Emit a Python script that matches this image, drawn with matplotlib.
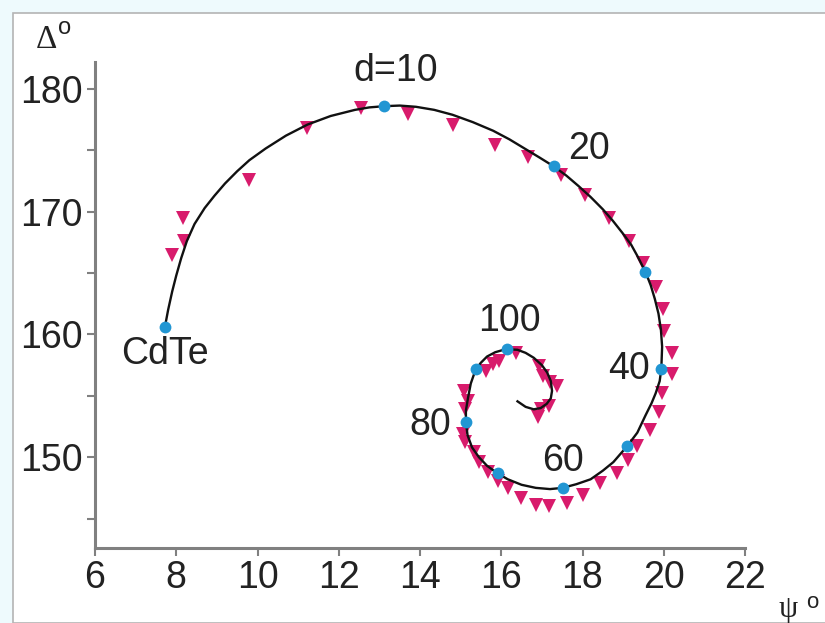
import matplotlib
matplotlib.use("Agg")
import matplotlib.pyplot as plt
from matplotlib.patches import Rectangle

# model curve (psi, delta)
curve_psi = [7.72, 7.8, 7.9, 8.0, 8.12, 8.26, 8.45, 8.7, 8.94, 9.2, 9.5, 9.8, 10.2,
             10.7, 11.23, 11.8, 12.4, 12.75, 13.12, 13.5, 13.9, 14.35, 14.8,
             15.3, 15.8, 16.2, 16.6, 16.95, 17.29, 17.6, 17.9, 18.2, 18.5, 18.75, 19.0,
             19.2, 19.35, 19.55, 19.68, 19.78, 19.87, 19.93, 19.96, 19.94, 19.9, 19.8,
             19.7, 19.55, 19.35, 19.1, 18.76, 18.5, 18.2, 17.85, 17.51, 17.2, 16.85,
             16.5, 16.16, 15.9, 15.65, 15.45, 15.28, 15.17, 15.13, 15.13, 15.18, 15.25,
             15.37, 15.5, 15.65, 15.85, 16.11, 16.4, 16.6, 16.8, 17.0, 17.13, 17.22,
             17.25, 17.22, 17.12, 16.97, 16.8, 16.6, 16.4]
curve_delta = [160.6, 162.0, 163.5, 164.8, 166.2, 167.6, 169.0, 170.3, 171.3, 172.3,
               173.3, 174.2, 175.15, 176.2, 177.1, 177.8, 178.3, 178.5, 178.6, 178.65,
               178.55, 178.3, 177.9, 177.3, 176.6, 175.9, 175.1,
               174.4, 173.7, 172.95, 172.1, 171.2, 170.2, 169.25, 168.2, 167.3, 166.4,
               165.1, 164.0, 162.9, 161.7, 160.4, 159.0, 157.2, 156.2, 155.2, 154.4,
               153.4, 152.0, 150.9, 149.6, 148.9, 148.2, 147.8, 147.5, 147.4, 147.5,
               147.75, 148.2, 148.7, 149.3, 150.0, 150.8, 151.8, 152.85, 153.8, 154.8,
               156.0, 157.15, 157.7, 158.2, 158.55, 158.8, 158.75, 158.5, 158.1, 157.5,
               156.9, 156.2, 155.4, 154.8, 154.35, 154.0, 153.9, 154.1, 154.55]

# thickness marks d = 0, 10, ..., 100
mark_psi = [7.72, 13.12, 17.29, 19.55, 19.94, 19.1, 17.51, 15.92, 15.13, 15.37, 16.13]
mark_delta = [160.6, 178.6, 173.7, 165.1, 157.2, 150.9, 147.5, 148.7, 152.85, 157.15, 158.85]

# measured points
meas_psi = [7.9, 8.2, 8.16, 9.8, 11.23, 12.55, 13.7, 14.81, 15.84, 16.67, 17.46,
            18.05, 18.64, 19.15, 19.5, 19.82, 19.99, 20.0, 20.2, 20.2, 19.96, 19.89,
            19.67, 19.35, 19.13, 18.86, 18.44, 18.02, 17.63, 17.17, 16.85, 16.48,
            16.16, 15.91, 15.67, 15.45, 15.33, 15.1, 15.06, 15.1, 15.18, 15.08,
            15.62, 15.79, 15.94, 16.36, 16.92, 17.02, 17.21, 17.38, 17.17, 16.97, 16.9]
meas_delta = [166.5, 167.6, 169.5, 172.6, 176.8, 178.45, 178.0, 177.07, 175.45, 174.5,
              173.0, 171.4, 169.5, 167.6, 165.85, 163.9, 162.1, 160.3, 158.5, 156.75,
              155.2, 153.7, 152.2, 150.9, 149.8, 148.7, 147.9, 146.9, 146.3, 146.0,
              146.1, 146.7, 147.5, 148.1, 148.8, 149.6, 150.4, 151.2, 151.9, 153.9,
              154.55, 155.4, 157.0, 157.6, 157.8, 158.5, 157.4, 156.6, 156.1, 155.8,
              154.15, 153.9, 153.3]

label_text = ["CdTe", "d=10", "20", "40", "60", "80", "100"]
label_psi = [7.72, 13.39, 18.15, 19.15, 17.51, 14.25, 16.21]
label_delta = [158.4, 181.5, 175.1, 157.15, 149.7, 152.6, 161.1]

x_ticks = [6, 8, 10, 12, 14, 16, 18, 20, 22]
y_ticks = [150, 160, 170, 180]
y_minor = [145, 155, 165, 175]

W, H = 825, 623
fig = plt.figure(figsize=(W / 100, H / 100), dpi=100, facecolor="#eefafd")
fig.add_artist(Rectangle((13 / W, 0), 1, 1 - 13 / H, transform=fig.transFigure,
                         facecolor="white", edgecolor="#b4b4b4", lw=1.2, zorder=-10))

ax = fig.add_axes([95 / W, 1 - 548 / H, (745 - 95) / W, (548 - 62) / H])
ax.set_facecolor("none")
ax.set_xlim(6, 22)
ax.set_ylim(142.6, 182.2)

ax.plot(meas_psi, meas_delta, "v", color="#d81b6c", ms=10, mew=0, zorder=3)
ax.plot(curve_psi, curve_delta, "-", color="#111111", lw=1.7, zorder=4)
ax.plot(mark_psi, mark_delta, "o", color="#2196d3", ms=8.5, mew=0, zorder=5)

for t, px, py in zip(label_text, label_psi, label_delta):
    ax.text(px, py, t, ha="center", va="center", fontsize=27,
            family="Liberation Sans", color="#222222", zorder=6, clip_on=False)

for s in ["top", "right"]:
    ax.spines[s].set_visible(False)
for s in ["left", "bottom"]:
    ax.spines[s].set_color("#808080")
    ax.spines[s].set_linewidth(2.2)

ax.set_xticks(x_ticks)
ax.set_yticks(y_ticks)
ax.set_yticks(y_minor, minor=True)
ax.tick_params(axis="both", which="both", direction="out", length=6, width=1.5,
               color="#808080", labelsize=27, labelcolor="#222222", pad=3)
for lab in ax.get_xticklabels() + ax.get_yticklabels():
    lab.set_family("Liberation Sans")

fig.text(36 / W, 1 - 48 / H, "Δ", fontsize=24, family="Liberation Serif",
         color="#222222", ha="left", va="baseline")
fig.text(58 / W, 1 - 34 / H, "o", fontsize=17, family="Liberation Sans",
         color="#222222", ha="left", va="baseline")
fig.text(779 / W, 1 - 617 / H, "ψ", fontsize=22, family="Liberation Serif",
         color="#222222", ha="left", va="baseline")
fig.text(806 / W, 1 - 608 / H, "o", fontsize=16, family="Liberation Sans",
         color="#222222", ha="left", va="baseline")

fig.savefig("out.png", dpi=100, facecolor=fig.get_facecolor())
